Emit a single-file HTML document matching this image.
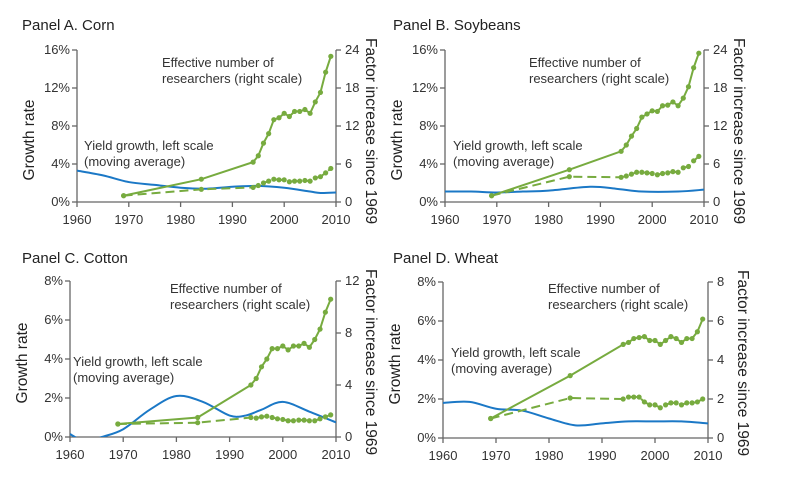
<!DOCTYPE html>
<html><head><meta charset="utf-8">
<style>
body{margin:0;background:#fff;}
svg{display:block;font-family:"Liberation Sans",Arial,sans-serif;}
</style></head>
<body>
<svg id="chart" width="790" height="489" viewBox="0 0 790 489" xmlns="http://www.w3.org/2000/svg"></svg>
<script>
// ----- data -----
const researchYears = [1969,1984,1994,1995,1996,1997,1998,1999,2000,2001,2002,2003,2004,2005,2006,2007,2008,2009];
const cornSolid = [1,3.6,6.3,7.3,9.3,10.8,13,13.3,14,13.5,14.3,14.3,14.6,14,15.8,17.3,20.5,23];
const cornDashed = [1,2.0,2.3,2.6,3.0,3.3,3.6,3.5,3.5,3.2,3.3,3.3,3.4,3.3,3.8,4.0,4.6,5.3];
const cornYieldYears = [1960,1965,1970,1975,1980,1985,1990,1995,2000,2005,2007,2010];
const cornYield = [3.3,2.8,2.1,1.8,1.5,1.4,1.6,1.7,1.5,1.1,0.95,1.0];
const soySolid = [1,5.1,8.0,9,10.4,11.6,13.4,13.9,14.4,14.3,15.2,15.3,15.8,15.2,16.4,18.2,21.2,23.5];
const soyDashed = [1,4,3.9,4.1,4.4,4.7,4.7,4.6,4.5,4.3,4.5,4.6,4.8,4.7,5.4,5.6,6.5,7.2];
const soyYieldYears = [1960,1965,1970,1975,1980,1988,1993,1998,2005,2010];
const soyYield = [1.1,1.1,1.0,1.1,1.2,1.6,1.4,1.1,1.1,1.3];
const cottonSolid = [1.0,1.5,4.0,4.5,5.4,6.0,6.8,6.8,7.0,6.7,7.0,7.0,7.2,6.9,7.5,8.3,9.6,10.6];
const cottonDashed = [1,1.1,1.5,1.45,1.55,1.6,1.5,1.4,1.35,1.25,1.25,1.3,1.3,1.25,1.25,1.4,1.55,1.7];
const cottonYieldYears = [1960,1963,1966,1970,1975,1980,1985,1990,1993,1996,2000,2005,2010];
const cottonYield = [0.15,-0.25,0,0.4,1.4,2.1,1.8,1.1,1.1,1.4,1.8,1.3,0.75];
const wheatSolid = [1.0,3.2,4.8,4.9,5.1,5.15,5.2,5.0,5.0,4.8,5.0,5.2,5.1,4.9,5.1,5.1,5.45,6.1];
const wheatDashed = [1,2.05,2.0,2.1,2.1,2.1,1.85,1.7,1.7,1.55,1.7,1.8,1.8,1.7,1.8,1.8,1.85,2.0];
const wheatYieldYears = [1960,1965,1970,1975,1980,1985,1990,1995,2000,2005,2010];
const wheatYield = [1.8,1.85,1.5,1.4,1.0,0.65,0.75,0.85,0.85,0.85,0.75];
const xTicks = [1960,1970,1980,1990,2000,2010];
const panelTitles = ["Panel A. Corn","Panel B. Soybeans","Panel C. Cotton","Panel D. Wheat"];
const leftTicksA = [0,4,8,12,16], rightTicksA = [0,6,12,18,24];
const leftTicksC = [0,2,4,6,8], rightTicksC = [0,4,8,12], rightTicksD = [0,2,4,6,8];

const NS="http://www.w3.org/2000/svg";
const svg=document.getElementById('chart');
function mk(tag,attrs,parent,text){const e=document.createElementNS(NS,tag);for(const k in attrs)e.setAttribute(k,attrs[k]);if(text!==undefined)e.textContent=text;(parent||svg).appendChild(e);return e;}
const GREEN="#77ab3f", BLUE="#1b78c6", AX="#666", TX="#333";

function spline(pts){
  let d="M"+pts[0][0]+","+pts[0][1];
  for(let i=0;i<pts.length-1;i++){
    const p0=pts[Math.max(0,i-1)],p1=pts[i],p2=pts[i+1],p3=pts[Math.min(pts.length-1,i+2)];
    const c1=[p1[0]+(p2[0]-p0[0])/6,p1[1]+(p2[1]-p0[1])/6];
    const c2=[p2[0]-(p3[0]-p1[0])/6,p2[1]-(p3[1]-p1[1])/6];
    d+=" C"+c1[0]+","+c1[1]+" "+c2[0]+","+c2[1]+" "+p2[0]+","+p2[1];
  }
  return d;
}

function panel(cfg,idx){
  const g=mk('g',{},svg);
  
  
  const x=v=>cfg.x0+(v-1960)/(50)*(cfg.x1-cfg.x0);
  const yl=v=>cfg.yBot-v/cfg.lMax*(cfg.yBot-cfg.yTop);
  const yr=v=>cfg.yBot-v/cfg.rMax*(cfg.yBot-cfg.yTop);
  const t=mk('text',{x:cfg.tx,y:cfg.ty,'font-size':15,fill:'#222'},g,panelTitles[idx]);
  
  const ax=mk('g',{stroke:AX,'stroke-width':1.3,fill:'none'},g);
  
  mk('line',{x1:cfg.x0,y1:cfg.yTop,x2:cfg.x0,y2:cfg.yBot},ax);
  mk('line',{x1:cfg.x1,y1:cfg.yTop,x2:cfg.x1,y2:cfg.yBot},ax);
  mk('line',{x1:cfg.x0,y1:cfg.yBot,x2:cfg.x1,y2:cfg.yBot},ax);
  cfg.lTicks.forEach(v=>{
    mk('line',{x1:cfg.x0-5,y1:yl(v),x2:cfg.x0,y2:yl(v)},ax);
    const l=mk('text',{x:cfg.x0-7,y:yl(v)+4,'font-size':13,fill:TX,'text-anchor':'end'},g,v+'%');
    
  });
  cfg.rTicks.forEach(v=>{
    mk('line',{x1:cfg.x1,y1:yr(v),x2:cfg.x1+5,y2:yr(v)},ax);
    const l=mk('text',{x:cfg.x1+9,y:yr(v)+4,'font-size':13,fill:TX},g,String(v));
    
  });
  xTicks.forEach(v=>{
    mk('line',{x1:x(v),y1:cfg.yBot,x2:x(v),y2:cfg.yBot+5},ax);
    const l=mk('text',{x:x(v),y:cfg.yBot+22,'font-size':13,fill:TX,'text-anchor':'middle'},g,String(v));
    
  });
  const cy=(cfg.yTop+cfg.yBot)/2+cfg.gOff;
  const yt=mk('text',{x:0,y:0,'font-size':15.5,fill:'#222','text-anchor':'middle',transform:`translate(${cfg.x0-43},${cy+4}) rotate(-90)`},g,'Growth rate');
  
  const rt=mk('text',{x:0,y:0,'font-size':15.5,fill:'#222',transform:`translate(${cfg.x1+30},${cfg.yTop-12}) rotate(90)`},g,'Factor increase since 1969');
  
  const cid='clip'+idx;
  const cp=mk('clipPath',{id:cid},g);mk('rect',{x:cfg.x0,y:cfg.yTop-10,width:cfg.x1-cfg.x0,height:cfg.yBot-cfg.yTop+10},cp);
  const yp=mk('path',{d:spline(cfg.yYears.map((yv,i)=>[x(yv),yl(cfg.yVals[i])])),stroke:BLUE,'stroke-width':2,fill:'none','clip-path':`url(#${cid})`},g);
  
  const dp=mk('polyline',{points:researchYears.map((yv,i)=>x(yv)+','+yr(cfg.dashed[i])).join(' '),stroke:GREEN,'stroke-width':2,fill:'none','stroke-dasharray':'9,5'},g);
  
  const sp=mk('polyline',{points:researchYears.map((yv,i)=>x(yv)+','+yr(cfg.solid[i])).join(' '),stroke:GREEN,'stroke-width':2,fill:'none'},g);
  
  researchYears.forEach((yv,i)=>{
    const c1=mk('circle',{cx:x(yv),cy:yr(cfg.solid[i]),r:2.6,fill:GREEN},g);
    
    const c2=mk('circle',{cx:x(yv),cy:yr(cfg.dashed[i]),r:2.6,fill:GREEN},g);
    
  });
  const a1=mk('text',{x:cfg.ex,y:cfg.ey,'font-size':13,fill:'#333'},g);
  
  mk('tspan',{x:cfg.ex,dy:0},a1,'Effective number of');
  mk('tspan',{x:cfg.ex,dy:16},a1,'researchers (right scale)');
  const a2=mk('text',{x:cfg.gx,y:cfg.gy,'font-size':13,fill:'#333'},g);
  
  mk('tspan',{x:cfg.gx,dy:0},a2,'Yield growth, left scale');
  mk('tspan',{x:cfg.gx,dy:16},a2,'(moving average)');
}

panel({key:'corn',x0:77,x1:336,yTop:50,yBot:202,lMax:16,rMax:24,lTicks:leftTicksA,rTicks:rightTicksA,gOff:10,
  tx:22,ty:30,ex:162,ey:67,gx:84,gy:150,yYears:cornYieldYears,yVals:cornYield,solid:cornSolid,dashed:cornDashed},0);
panel({key:'soybeans',x0:445,x1:704,yTop:50,yBot:202,lMax:16,rMax:24,lTicks:leftTicksA,rTicks:rightTicksA,gOff:10,
  tx:393,ty:30,ex:529,ey:67,gx:453,gy:150,yYears:soyYieldYears,yVals:soyYield,solid:soySolid,dashed:soyDashed},1);
panel({key:'cotton',x0:70,x1:336,yTop:281,yBot:437,lMax:8,rMax:12,lTicks:leftTicksC,rTicks:rightTicksC,gOff:0,
  tx:22,ty:263,ex:170,ey:293,gx:73,gy:366,yYears:cottonYieldYears,yVals:cottonYield,solid:cottonSolid,dashed:cottonDashed},2);
panel({key:'wheat',x0:443,x1:708,yTop:282,yBot:438,lMax:8,rMax:8,lTicks:leftTicksC,rTicks:rightTicksD,gOff:0,
  tx:393,ty:263,ex:548,ey:293,gx:451,gy:357,yYears:wheatYieldYears,yVals:wheatYield,solid:wheatSolid,dashed:wheatDashed},3);
</script>
</body></html>
